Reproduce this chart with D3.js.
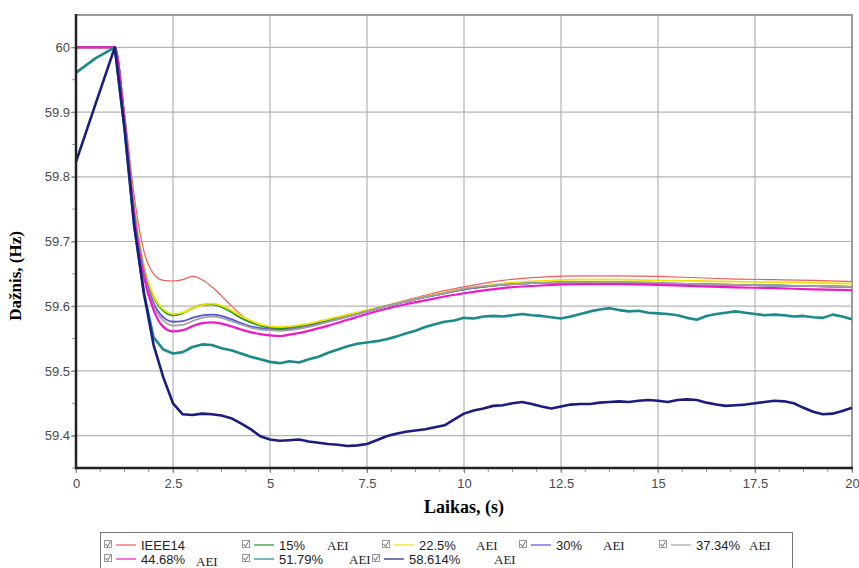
<!DOCTYPE html>
<html>
<head>
<meta charset="utf-8">
<script src="https://cdn.jsdelivr.net/npm/d3@7"></script>
<style>
    body { margin: 0; background: #fff; }
    .tick text { fill: #4a4a4a; font-family: "Liberation Sans", Arial, sans-serif; font-size: 13px; }
</style>
</head>
<body>
<script>
// frequency after disturbance, IEEE14 bus with growing AEI share

// sample times of the smooth curves (s)
var timeSmooth = [0, 1, 1.25, 1.5, 1.75, 2, 2.25, 2.5, 2.75, 3, 3.25, 3.5,
    3.75, 4, 4.25, 4.5, 4.75, 5, 5.25, 5.5, 6, 6.5, 7, 7.5, 8, 8.5, 9, 9.5,
    10, 11, 12, 13, 14, 15, 16, 17, 18, 19, 20];

var ieee14 = [60, 60, 59.90, 59.77, 59.685, 59.650, 59.640, 59.639, 59.641,
    59.646, 59.641, 59.630, 59.616, 59.601, 59.587, 59.577, 59.570, 59.566,
    59.564, 59.566, 59.571, 59.578, 59.585, 59.593, 59.601, 59.609, 59.617,
    59.624, 59.630, 59.640, 59.645, 59.647, 59.647, 59.646, 59.644, 59.642,
    59.641, 59.640, 59.638];

var aei15 = [60, 60, 59.89, 59.75, 59.66, 59.614, 59.593, 59.586, 59.589,
    59.597, 59.602, 59.603, 59.599, 59.591, 59.582, 59.575, 59.570, 59.567,
    59.566, 59.567, 59.572, 59.578, 59.585, 59.592, 59.600, 59.607, 59.614,
    59.620, 59.626, 59.633, 59.636, 59.637, 59.636, 59.635, 59.634, 59.633,
    59.632, 59.631, 59.630];

var aei225 = [60, 60, 59.89, 59.75, 59.662, 59.616, 59.595, 59.588, 59.590,
    59.597, 59.602, 59.604, 59.601, 59.594, 59.585, 59.578, 59.572, 59.569,
    59.568, 59.569, 59.573, 59.580, 59.587, 59.594, 59.601, 59.608, 59.615,
    59.621, 59.627, 59.635, 59.639, 59.641, 59.641, 59.640, 59.639, 59.638,
    59.637, 59.636, 59.635];

var aei30 = [60, 60, 59.89, 59.745, 59.655, 59.605, 59.583, 59.576, 59.577,
    59.582, 59.586, 59.587, 59.585, 59.580, 59.574, 59.569, 59.566, 59.564,
    59.563, 59.564, 59.569, 59.576, 59.584, 59.592, 59.600, 59.607, 59.614,
    59.620, 59.626, 59.633, 59.636, 59.637, 59.637, 59.636, 59.634, 59.633,
    59.632, 59.631, 59.630];

var aei3734 = [60, 60, 59.888, 59.743, 59.652, 59.600, 59.578, 59.570,
    59.571, 59.577, 59.582, 59.584, 59.582, 59.577, 59.572, 59.567, 59.564,
    59.563, 59.562, 59.563, 59.568, 59.576, 59.584, 59.592, 59.600, 59.607,
    59.614, 59.620, 59.627, 59.633, 59.636, 59.637, 59.637, 59.636, 59.634,
    59.633, 59.632, 59.631, 59.630];

var aei4468 = [60, 60, 59.885, 59.74, 59.645, 59.594, 59.568, 59.561, 59.563,
    59.569, 59.574, 59.575, 59.573, 59.569, 59.564, 59.560, 59.557, 59.555,
    59.554, 59.556, 59.562, 59.570, 59.579, 59.588, 59.596, 59.603, 59.609,
    59.615, 59.620, 59.628, 59.632, 59.634, 59.634, 59.633, 59.631, 59.629,
    59.628, 59.626, 59.625];

// sample times of the two noisy curves (s)
var timeNoisy = [0, 0.5, 1, 1.25, 1.5, 1.75,
    2, 2.25, 2.5, 2.75, 3, 3.25, 3.5, 3.75, 4, 4.25, 4.5, 4.75,
    5, 5.25, 5.5, 5.75, 6, 6.25, 6.5, 6.75, 7, 7.25, 7.5, 7.75,
    8, 8.25, 8.5, 8.75, 9, 9.25, 9.5, 9.75, 10, 10.25, 10.5, 10.75,
    11, 11.25, 11.5, 11.75, 12, 12.25, 12.5, 12.75, 13, 13.25, 13.5, 13.75,
    14, 14.25, 14.5, 14.75, 15, 15.25, 15.5, 15.75, 16, 16.25, 16.5, 16.75,
    17, 17.25, 17.5, 17.75, 18, 18.25, 18.5, 18.75, 19, 19.25, 19.5, 19.75,
    20];

var aei5179 = [59.961, 59.983, 60, 59.875, 59.725, 59.62,
    59.552, 59.533, 59.527, 59.529, 59.537, 59.541, 59.540, 59.535, 59.532,
    59.527, 59.522, 59.518, 59.514, 59.512, 59.515, 59.513, 59.518, 59.522,
    59.528, 59.533, 59.538, 59.542, 59.544, 59.546, 59.549, 59.553, 59.558,
    59.562, 59.568, 59.572, 59.576, 59.578, 59.582, 59.581, 59.584, 59.585,
    59.584, 59.586, 59.588, 59.586, 59.585, 59.583, 59.581, 59.584, 59.588,
    59.592, 59.595, 59.597, 59.594, 59.592, 59.593, 59.590, 59.589, 59.588,
    59.586, 59.582, 59.579, 59.585, 59.588, 59.590, 59.592, 59.590, 59.588,
    59.586, 59.587, 59.586, 59.584, 59.585, 59.583, 59.582, 59.587, 59.584,
    59.580];

var aei58614 = [59.823, 59.912, 60, 59.875, 59.725, 59.62,
    59.540, 59.490, 59.450, 59.433, 59.432, 59.434, 59.433, 59.431, 59.427,
    59.419, 59.410, 59.399, 59.394, 59.392, 59.393, 59.394, 59.391, 59.389,
    59.387, 59.386, 59.384, 59.385, 59.387, 59.393, 59.399, 59.403, 59.406,
    59.408, 59.410, 59.413, 59.416, 59.425, 59.434, 59.439, 59.442, 59.446,
    59.447, 59.450, 59.452, 59.449, 59.445, 59.442, 59.445, 59.448, 59.449,
    59.449, 59.451, 59.452, 59.453, 59.452, 59.454, 59.455, 59.454, 59.452,
    59.455, 59.456, 59.455, 59.451, 59.448, 59.446, 59.447, 59.448, 59.450,
    59.452, 59.454, 59.453, 59.450, 59.443, 59.437, 59.433, 59.434, 59.438,
    59.443];

var seriesNames = ["IEEE14", "15%", "22.5%", "30%", "37.34%", "44.68%",
    "51.79%", "58.614%"];
var seriesColors = ["#f25c5c", "#1f9a1f", "#f2e200", "#5252e0", "#a2a2a2",
    "#f018c8", "#1a8a8a", "#1c1c80"];

var yTicks = [59.4, 59.5, 59.6, 59.7, 59.8, 59.9, 60];
var xTicks = [0, 2.5, 5, 7.5, 10, 12.5, 15, 17.5, 20];

// build one object per curve from the arrays above
var series = [
    {name: seriesNames[0], t: timeSmooth, v: ieee14, color: seriesColors[0], w: 1.2},
    {name: seriesNames[1], t: timeSmooth, v: aei15, color: seriesColors[1], w: 1.8},
    {name: seriesNames[2], t: timeSmooth, v: aei225, color: seriesColors[2], w: 1.8},
    {name: seriesNames[3], t: timeSmooth, v: aei30, color: seriesColors[3], w: 1.8},
    {name: seriesNames[4], t: timeSmooth, v: aei3734, color: seriesColors[4], w: 1.8},
    {name: seriesNames[5], t: timeSmooth, v: aei4468, color: seriesColors[5], w: 2.2},
    {name: seriesNames[6], t: timeNoisy, v: aei5179, color: seriesColors[6], w: 2.6},
    {name: seriesNames[7], t: timeNoisy, v: aei58614, color: seriesColors[7], w: 2.6}
];

var margin = {top: 15, right: 7, bottom: 100, left: 76},
    width = 859 - margin.left - margin.right,
    height = 568 - margin.top - margin.bottom;

var svg = d3.select("body").append("svg")
    .attr("width", 859)
    .attr("height", 568)
    .append("g")
    .attr("transform", "translate(" + margin.left + "," + margin.top + ")");

var xScale = d3.scaleLinear().domain([0, 20]).range([0, width]);
var yScale = d3.scaleLinear().domain([59.35, 60.05]).range([height, 0]);

// grid
svg.append("g").selectAll("line")
    .data(yTicks)
    .enter().append("line")
    .attr("x1", 0).attr("x2", width)
    .attr("y1", function(d) { return yScale(d); })
    .attr("y2", function(d) { return yScale(d); })
    .attr("stroke", "#b4b4b4").attr("stroke-width", 1.2);

svg.append("g").selectAll("line")
    .data(xTicks.slice(1, -1))
    .enter().append("line")
    .attr("y1", 0).attr("y2", height)
    .attr("x1", function(d) { return xScale(d); })
    .attr("x2", function(d) { return xScale(d); })
    .attr("stroke", "#b4b4b4").attr("stroke-width", 1.2);

// top and right frame are grey
svg.append("path")
    .attr("d", "M0,0H" + width + "V" + height)
    .attr("fill", "none")
    .attr("stroke", "#9a9a9a")
    .attr("stroke-width", 2);

// minor ticks
var yMinor = d3.range(59.35, 60.05, 0.05);
var xMinor = d3.range(0, 20.001, 0.625);

svg.append("g").selectAll("line")
    .data(yMinor)
    .enter().append("line")
    .attr("x1", -4).attr("x2", 0)
    .attr("y1", function(d) { return yScale(d); })
    .attr("y2", function(d) { return yScale(d); })
    .attr("stroke", "#999");

svg.append("g").selectAll("line")
    .data(xMinor)
    .enter().append("line")
    .attr("y1", height).attr("y2", height + 4)
    .attr("x1", function(d) { return xScale(d); })
    .attr("x2", function(d) { return xScale(d); })
    .attr("stroke", "#999");

// curves
var line = d3.line()
    .x(function(d) { return xScale(d[0]); })
    .y(function(d) { return yScale(d[1]); });

series.forEach(function(s) {
    var pts = s.t.map(function(t, i) { return [t, s.v[i]]; });
    svg.append("path")
        .datum(pts)
        .attr("fill", "none")
        .attr("stroke", s.color)
        .attr("stroke-width", s.w)
        .attr("stroke-linejoin", "round")
        .attr("d", line.curve(s.t === timeSmooth ? d3.curveMonotoneX : d3.curveLinear));
});

// axes
var xAxis = d3.axisBottom(xScale).tickValues(xTicks).tickSize(5)
    .tickFormat(d3.format("~g"));
var yAxis = d3.axisLeft(yScale).tickValues(yTicks).tickSize(5)
    .tickFormat(d3.format("~g"));

var gx = svg.append("g")
    .attr("transform", "translate(0," + height + ")")
    .call(xAxis);
gx.select(".domain").remove();
gx.selectAll(".tick line").attr("stroke", "#888");
gx.selectAll(".tick text").attr("dy", "0.95em");

var gy = svg.append("g").call(yAxis);
gy.select(".domain").remove();
gy.selectAll(".tick line").attr("stroke", "#888");
gy.selectAll(".tick text").attr("x", -6);

// dark left and bottom axis lines
svg.append("path")
    .attr("d", "M0,-1V" + height + "H" + (width + 1))
    .attr("fill", "none")
    .attr("stroke", "#222")
    .attr("stroke-width", 2.5);

// axis titles
svg.append("text")
    .attr("x", xScale(10))
    .attr("y", height + 45)
    .attr("text-anchor", "middle")
    .style("font-family", "'Liberation Serif', 'Times New Roman', serif")
    .style("font-weight", "bold")
    .style("font-size", "18px")
    .text("Laikas, (s)");

svg.append("text")
    .attr("transform", "translate(" + (-55) + "," + 261 + ") rotate(-90)")
    .attr("text-anchor", "middle")
    .style("font-family", "'Liberation Serif', 'Times New Roman', serif")
    .style("font-weight", "bold")
    .style("font-size", "17px")
    .text("Dažnis, (Hz)");

// legend box, checkboxes and labels
var legend = d3.select("svg").append("g");
legend.append("rect")
    .attr("x", 100.5).attr("y", 532.5)
    .attr("width", 692).attr("height", 40)
    .attr("fill", "#fff").attr("stroke", "#777");

var legendPos = [
    [104, 545, 47], [242, 545, 48], [382, 545, 57], [519, 545, 47],
    [659, 545, 53], [104, 559, 55], [242, 559, 70], [372, 559, 85]
];

series.forEach(function(s, i) {
    var p = legendPos[i];
    var g = legend.append("g").attr("transform", "translate(" + p[0] + "," + p[1] + ")");
    g.append("rect")
        .attr("x", 0.5).attr("y", -4.5)
        .attr("width", 7).attr("height", 7)
        .attr("fill", "#fff").attr("stroke", "#999");
    g.append("path")
        .attr("d", "M1.5,-1L3.5,1.5L6.5,-3.5")
        .attr("fill", "none").attr("stroke", "#666").attr("stroke-width", 1);
    g.append("line")
        .attr("x1", 12).attr("x2", 32)
        .attr("y1", 0).attr("y2", 0)
        .attr("stroke", s.color).attr("stroke-opacity", 0.75)
        .attr("stroke-width", 1.6);
    g.append("text")
        .attr("x", 37).attr("y", 4.5)
        .style("font-family", "'Liberation Sans', Arial, sans-serif")
        .style("font-size", "13px")
        .attr("fill", "#222")
        .text(s.name);
    if (i > 0) {
        g.append("text")
            .attr("x", 37 + p[2]).attr("y", i === 5 ? 7 : 4.5)
            .style("font-family", "'Liberation Serif', 'Times New Roman', serif")
            .style("font-size", "13px")
            .attr("fill", "#222")
            .text("AEI");
    }
});
</script>
</body>
</html>
